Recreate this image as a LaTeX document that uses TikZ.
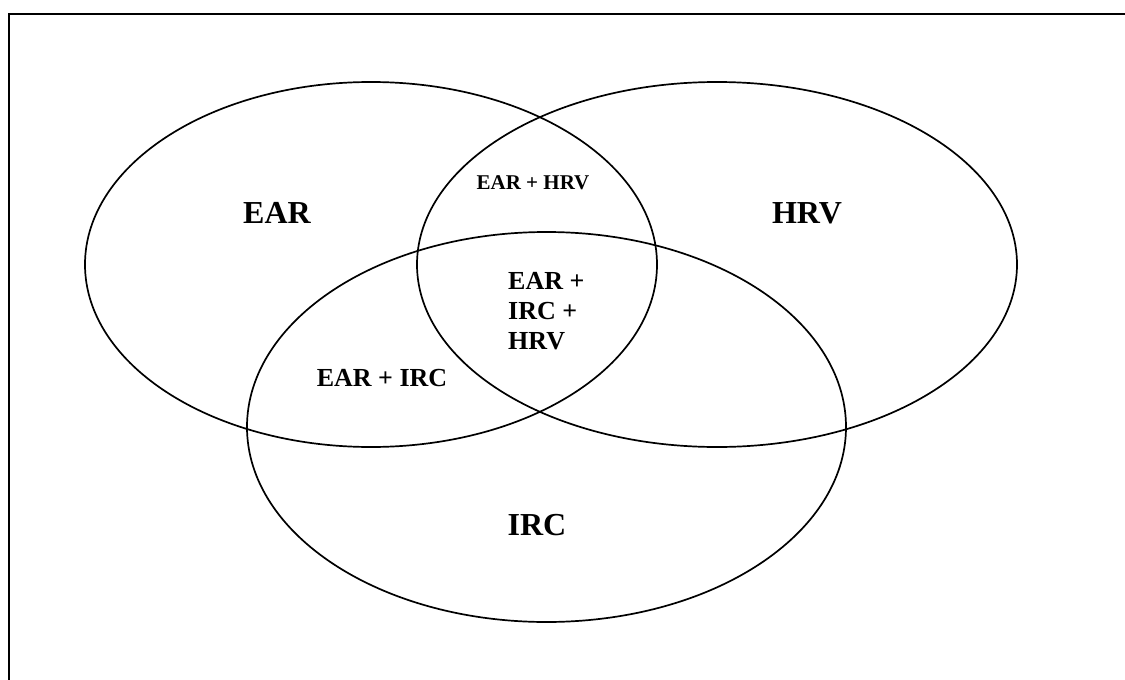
\documentclass[tikz,border=0pt]{standalone}
\usepackage{fontspec}
\setmainfont{Liberation Serif}
\begin{document}
\begin{tikzpicture}[x=1pt,y=-1pt,
  setline/.style={draw=black,line width=1.7pt},
  framel/.style={draw=black,line width=2.4pt},
  big/.style={font=\fontsize{32}{36}\selectfont\bfseries,inner sep=0pt},
  mid/.style={font=\fontsize{26}{30}\selectfont\bfseries,inner sep=0pt},
  small/.style={font=\fontsize{21}{24}\selectfont\bfseries,inner sep=0pt}]
\useasboundingbox (0,0) rectangle (1125,680);
% frame (top and left edges only)
\draw[framel] (9,681) -- (9,14) -- (1126,14);
% sets
\draw[setline] (371,264.5) ellipse [x radius=286, y radius=182.5];
\draw[setline] (717,264.5) ellipse [x radius=300, y radius=182.5];
\draw[setline] (546.5,427) ellipse [x radius=299.5, y radius=195];
% labels
\node[big] (ear) at (277,213) {EAR};
\node[big] (hrv) at (807,213) {HRV};
\node[big] (irc) at (537,525) {IRC};
\node[small] (earhrv) at (533,183) {EAR + HRV};
\node[mid] (earirc) at (382,378) {EAR + IRC};
\node[mid,align=left,anchor=north west] (all) at (508,272) {EAR +\\IRC +\\HRV};
\end{tikzpicture}
\end{document}
